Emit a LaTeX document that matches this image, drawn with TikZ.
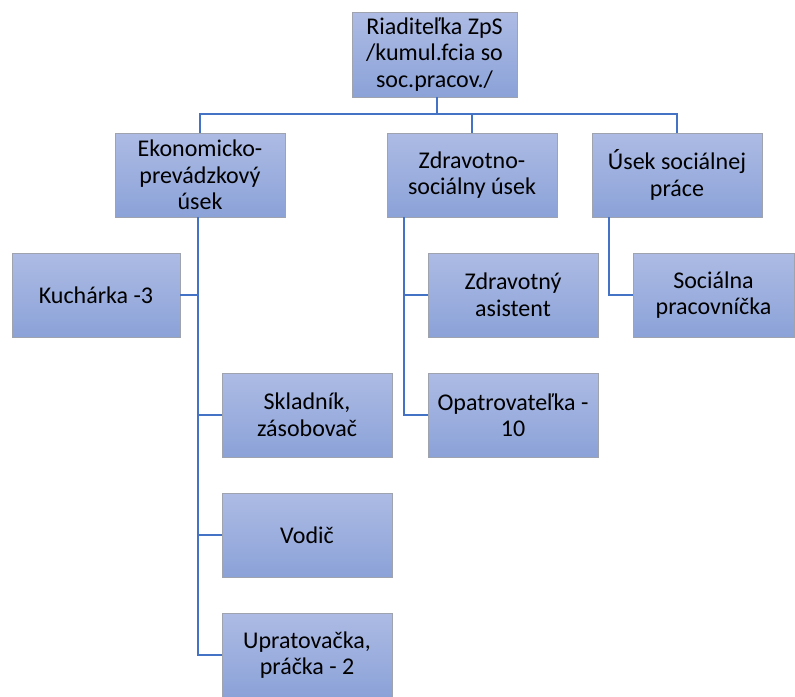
\documentclass[tikz,border=0pt]{standalone}
\usepackage{fontspec}
\setmainfont{Carlito}
\definecolor{boxtop}{HTML}{ADBBE4}
\definecolor{boxbot}{HTML}{8BA2D8}
\definecolor{boxline}{HTML}{9EA3AE}
\definecolor{conn}{HTML}{4472C4}
\tikzset{
  orgbox/.style={draw=boxline, line width=0.8pt, top color=boxtop, bottom color=boxbot,
    minimum width=170pt, minimum height=84pt, align=center, inner sep=2pt,
    font=\fontsize{24}{26.5}\selectfont, text=black},
  link/.style={draw=conn, line width=2.6pt}
}
\begin{document}
\begin{tikzpicture}[x=1pt,y=-1pt]
\useasboundingbox (0,0) rectangle (795,696);
\node[orgbox, minimum width=165pt, minimum height=85pt] (root) at (434.5,54.5) {Riaditeľka ZpS\\/kumul.fcia so\\soc.pracov./};
\node[orgbox] (eko) at (200,175) {Ekonomicko-\\prevádzkový\\úsek};
\node[orgbox] (zdr) at (472,175) {Zdravotno-\\sociálny úsek};
\node[orgbox] (soc) at (677,175) {Úsek sociálnej\\práce};
\node[orgbox, minimum width=168pt] (kuch) at (96,295) {Kuchárka -3};
\node[orgbox] (skl) at (307,415) {Skladník,\\zásobovač};
\node[orgbox] (vod) at (307,535) {Vodič};
\node[orgbox] (upr) at (307,655) {Upratovačka,\\práčka - 2};
\node[orgbox] (zasi) at (513,295) {Zdravotný\\asistent};
\node[orgbox] (opat) at (513,415) {Opatrovateľka -\\10};
\node[orgbox, minimum width=161pt] (spr) at (713.5,295) {Sociálna\\pracovníčka};
\coordinate (hb) at (437,114);
\draw[link] (root.south -| hb) -- (hb);
\draw[link] (eko.north) |- (hb) -| (soc.north);
\draw[link] (zdr.north) -- (zdr.north |- hb);
\coordinate (ev) at (198,217);
\draw[link] (ev) |- (upr.west);
\draw[link] (kuch.east) -- (kuch.east -| ev);
\draw[link] (skl.west) -- (skl.west -| ev);
\draw[link] (vod.west) -- (vod.west -| ev);
\coordinate (zv) at (404,217);
\draw[link] (zv) |- (opat.west);
\draw[link] (zasi.west) -- (zasi.west -| zv);
\coordinate (sv) at (609,217);
\draw[link] (sv) |- (spr.west);
\end{tikzpicture}
\end{document}
